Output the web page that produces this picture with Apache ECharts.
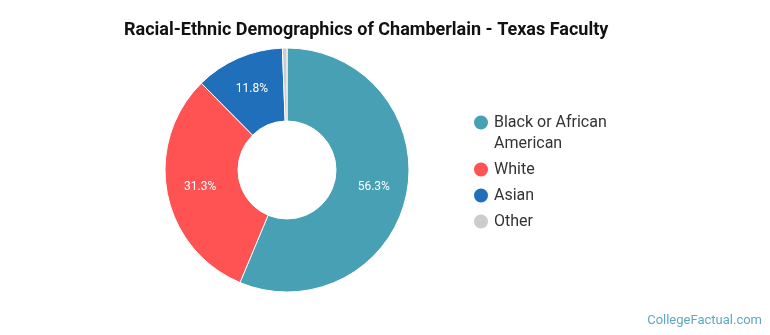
<!DOCTYPE html>
<html>
<head>
<meta charset="utf-8">
<script src="https://cdn.jsdelivr.net/npm/echarts@6/dist/echarts.min.js"></script>
<style>
  html, body { margin: 0; padding: 0; background: #fff; }
  #chart { width: 770px; height: 335px; }
</style>
</head>
<body>
<div id="chart"></div>
<script>
// chart data
const categories = ['Black or African American', 'White', 'Asian', 'Other']
const shares = [56.3, 31.3, 11.8, 0.6]
const colors = ['#48a0b4', '#ff5252', '#1f6fbb', '#cccccc']

const chart = echarts.init(document.getElementById('chart'))

let option = {
  animation: false,
  title: {
    text: 'Racial-Ethnic Demographics of Chamberlain - Texas Faculty',
    left: 119,
    top: 16,
    textStyle: {
      fontFamily: 'Roboto',
      fontWeight: 'bold',
      fontSize: 18,
      color: '#111'
    }
  },
  legend: {
    orient: 'vertical',
    left: 467,
    top: 86,
    icon: 'circle',
    itemWidth: 16,
    itemHeight: 16,
    itemGap: 5,
    textStyle: {
      fontFamily: 'Roboto',
      fontSize: 16,
      lineHeight: 21,
      color: '#333'
    },
    formatter: function (name) {
      // blank first line keeps the icon beside the first line of the wrapped label
      return name === 'Black or African American' ? ' \nBlack or African\nAmerican' : name
    },
    data: categories
  },
  graphic: [{
    type: 'text',
    right: 8,
    bottom: 8,
    style: {
      text: 'CollegeFactual.com',
      font: '13px Roboto',
      fill: '#5ea8c2'
    }
  }],
  series: [{
    type: 'pie',
    center: [287, 170],
    radius: [49, 122],
    startAngle: 90,
    clockwise: true,
    avoidLabelOverlap: false,
    itemStyle: {
      borderColor: '#fff',
      borderWidth: 1
    },
    label: {
      show: true,
      position: 'inside',
      color: '#fff',
      fontFamily: 'Roboto',
      fontSize: 12,
      formatter: function (p) {
        return p.value < 5 ? '' : p.value + '%'
      }
    },
    labelLine: { show: false },
    emphasis: { disabled: true },
    data: categories.map((c, i) => ({
      name: c,
      value: shares[i],
      itemStyle: { color: colors[i] }
    }))
  }]
}

chart.setOption(option)
</script>
</body>
</html>
